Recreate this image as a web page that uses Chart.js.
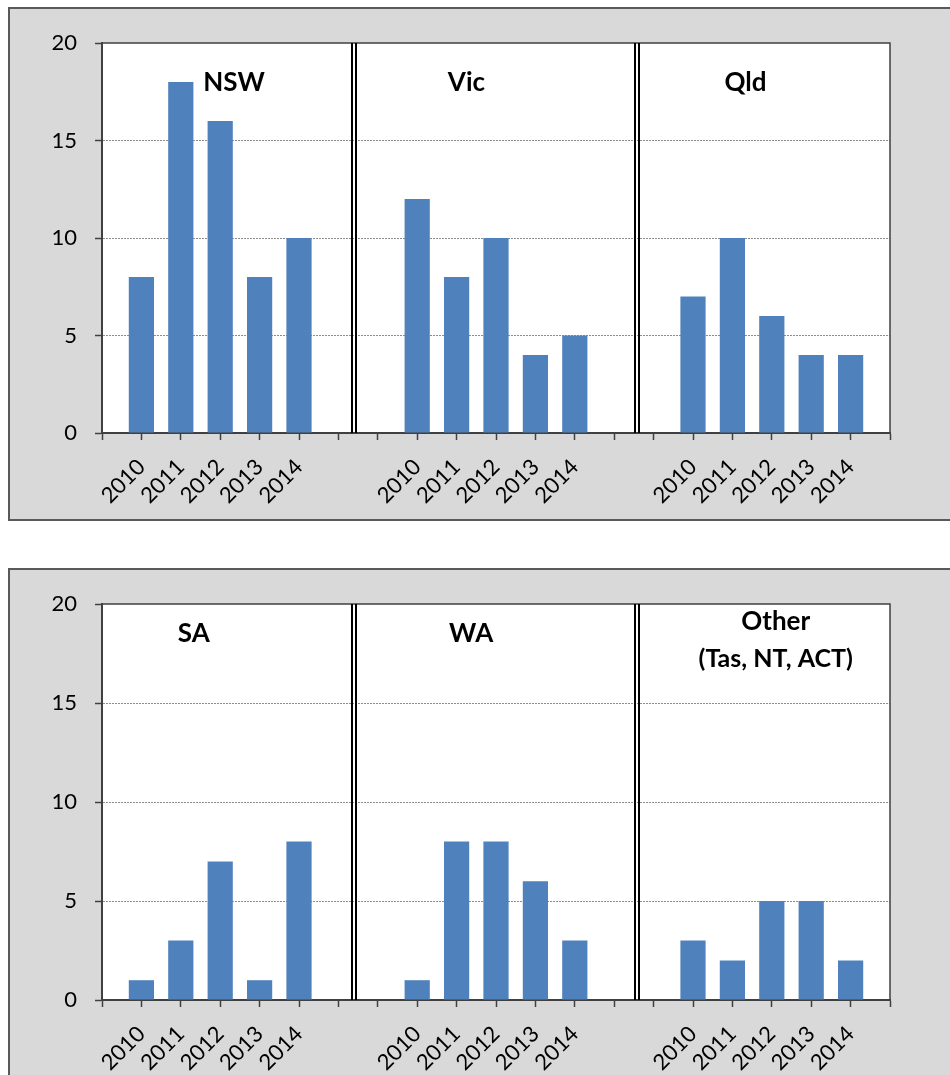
<!DOCTYPE html>
<html>
<head>
<meta charset="utf-8">
<script src="https://cdn.jsdelivr.net/npm/chart.js@4/dist/chart.umd.min.js"></script>
<style>
  html, body { margin: 0; padding: 0; background: #ffffff; width: 950px; height: 1075px; overflow: hidden; }
  .panel { position: absolute; left: 8px; width: 950px; background: #d9d9d9; border: 2px solid #595959; box-sizing: border-box; }
  #p1 { top: 7px; height: 514px; }
  #p2 { top: 568px; height: 520px; }
  canvas { position: absolute; left: -2px; top: -2px; }
</style>
</head>
<body>
<div class="panel" id="p1"><canvas id="c1" width="942" height="514"></canvas></div>
<div class="panel" id="p2"><canvas id="c2" width="942" height="520"></canvas></div>
<script>
// ---- data ----
const years = ['2010', '2011', '2012', '2013', '2014'];
const topGroups = ['NSW', 'Vic', 'Qld'];
const bottomGroups = ['SA', 'WA', 'Other'];
const otherNote = '(Tas, NT, ACT)';
const nsw = [8, 18, 16, 8, 10];
const vic = [12, 8, 10, 4, 5];
const qld = [7, 10, 6, 4, 4];
const sa = [1, 3, 7, 1, 8];
const wa = [1, 8, 8, 6, 3];
const other = [3, 2, 5, 5, 2];
const yTicks = [0, 5, 10, 15, 20];

// category layout: blank, 5 years, blank, blank, 5 years, blank, blank, 5 years, blank
function buildLabels() {
  const out = [''];
  for (let g = 0; g < 3; g++) {
    years.forEach(y => out.push(y));
    if (g < 2) { out.push(''); out.push(''); }
  }
  out.push('');
  return out;
}
function buildData(groups) {
  const out = [null];
  groups.forEach((arr, g) => {
    arr.forEach(v => out.push(v));
    if (g < 2) { out.push(null); out.push(null); }
  });
  out.push(null);
  return out;
}
const labels = buildLabels();

const FAMILY = 'Lato';
Chart.defaults.font.family = FAMILY;
Chart.defaults.font.size = 22;
Chart.defaults.color = '#000';
const BAR = '#4f81bd';

const decorPlugin = {
  id: 'decor',
  beforeDraw(chart) {
    const ctx = chart.ctx, a = chart.chartArea;
    ctx.save();
    ctx.fillStyle = '#ffffff';
    ctx.fillRect(a.left, a.top, a.right - a.left, a.bottom - a.top);
    ctx.restore();
  },
  afterDraw(chart, args, opts) {
    const ctx = chart.ctx, a = chart.chartArea, xs = chart.scales.x, ys = chart.scales.y;
    ctx.save();
    // plot frame top & right
    ctx.strokeStyle = '#404040';
    ctx.lineWidth = 1.5;
    ctx.beginPath();
    ctx.moveTo(a.left, a.top); ctx.lineTo(a.right, a.top); ctx.lineTo(a.right, a.bottom);
    ctx.stroke();
    // double separators
    ctx.strokeStyle = '#000';
    ctx.lineWidth = 2;
    opts.separators.forEach(s => {
      const px = Math.round(xs.getPixelForValue(s));
      [px - 2, px + 2].forEach(x => {
        ctx.beginPath(); ctx.moveTo(x, a.top); ctx.lineTo(x, a.bottom); ctx.stroke();
      });
    });
    // group titles
    ctx.fillStyle = '#000';
    ctx.textAlign = 'center';
    ctx.textBaseline = 'middle';
    opts.titles.forEach(t => {
      ctx.font = 'bold ' + t.size + 'px ' + FAMILY;
      ctx.fillText(t.text, xs.getPixelForValue(t.x), ys.getPixelForValue(t.y));
    });
    ctx.restore();
  }
};

function makeChart(id, groups, titles) {
  return new Chart(document.getElementById(id), {
    type: 'bar',
    data: {
      labels: labels,
      datasets: [{ data: buildData(groups), backgroundColor: BAR, borderWidth: 0,
                   categoryPercentage: 1, barPercentage: 0.64 }]
    },
    options: {
      responsive: false,
      animation: false,
      layout: { padding: { left: 0, top: 36, right: 60, bottom: 0 } },
      plugins: { legend: { display: false }, tooltip: { enabled: false },
                 decor: { separators: [6.4, 13.58], titles: titles } },
      scales: {
        x: {
          offset: false,
          grid: { display: true, drawOnChartArea: false, drawTicks: true, tickLength: 7,
                  tickColor: '#404040', tickWidth: 1.5, offset: false },
          border: { display: true, color: '#404040', width: 2 },
          ticks: { autoSkip: false, minRotation: 45, maxRotation: 45, padding: 14,
                   color: '#000', font: { family: FAMILY, size: 22 } },
          afterFit(s) { s.height = 88; }
        },
        y: {
          min: 0, max: 20,
          afterBuildTicks(s) { s.ticks = yTicks.map(v => ({ value: v })); },
          grid: {
            color: c => (c.tick && (c.tick.value === 0 || c.tick.value === 20)) ? 'rgba(0,0,0,0)' : '#8c8c8c',
            lineWidth: 1,
            tickColor: '#404040', tickLength: 7, tickWidth: 1.5, tickBorderDash: [],
            drawTicks: true
          },
          border: { display: true, color: '#404040', width: 2, dash: [2, 1] },
          ticks: { padding: 18, color: '#000', font: { family: FAMILY, size: 22 } },
          afterFit(s) { s.width = 94; }
        }
      }
    },
    plugins: [decorPlugin]
  });
}

makeChart('c1', [nsw, vic, qld], [
  { text: topGroups[0], x: 3.35, y: 17.95, size: 26 },
  { text: topGroups[1], x: 9.25, y: 17.95, size: 26 },
  { text: topGroups[2], x: 16.33, y: 17.95, size: 26 }
]);
makeChart('c2', [sa, wa, other], [
  { text: bottomGroups[0], x: 2.33, y: 18.5, size: 26 },
  { text: bottomGroups[1], x: 9.37, y: 18.5, size: 26 },
  { text: bottomGroups[2], x: 17.1, y: 19.1, size: 26 },
  { text: otherNote, x: 17.1, y: 17.25, size: 25 }
]);
</script>
</body>
</html>
